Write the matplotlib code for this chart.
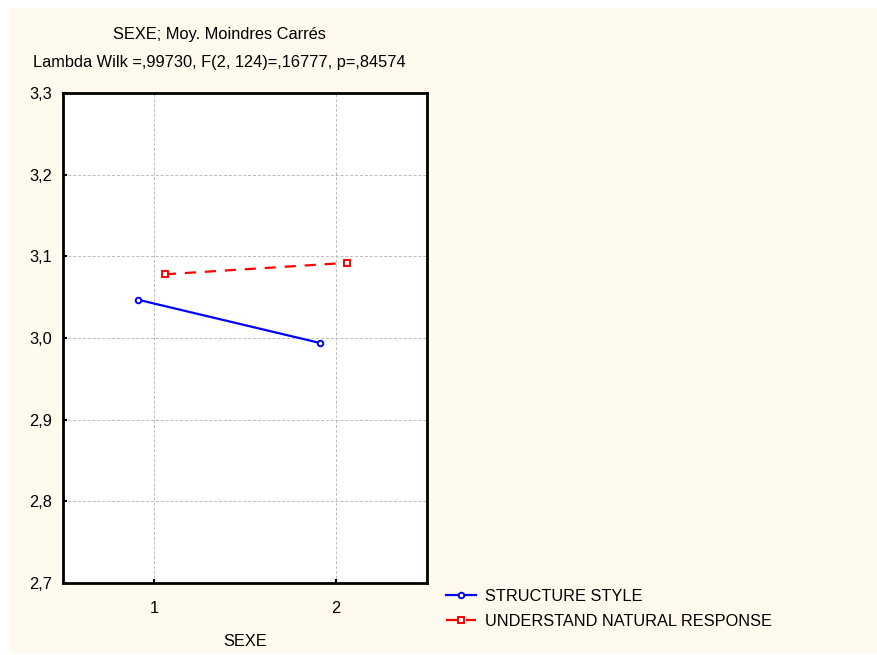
import matplotlib
matplotlib.use('Agg')
import matplotlib.pyplot as plt
from matplotlib.patches import Rectangle

plt.rcParams['font.family'] = ['Liberation Sans', 'DejaVu Sans']

# Data
sexe = [1, 2]
structureStyle = [3.047, 2.994]
understandNatural = [3.078, 3.092]
seriesNames = ['STRUCTURE STYLE', 'UNDERSTAND NATURAL RESPONSE']
yTicks = [2.7, 2.8, 2.9, 3.0, 3.1, 3.2, 3.3]
yTickLabels = ['2,7', '2,8', '2,9', '3,0', '3,1', '3,2', '3,3']
title1 = 'SEXE; Moy. Moindres Carrés'
title2 = 'Lambda Wilk =,99730, F(2, 124)=,16777, p=,84574'

W, H = 877, 655
fs = 11.8
fig = plt.figure(figsize=(W / 100, H / 100), dpi=100, facecolor='white')
cream = '#FFF9EE'
fig.patches.append(Rectangle((10 / W, 2 / H), 867 / W, 645 / H,
                             transform=fig.transFigure, facecolor=cream,
                             edgecolor='none', zorder=-10))

ax = fig.add_axes([63 / W, 1 - 583 / H, 364 / W, 490 / H])
ax.set_facecolor('white')

# small horizontal offsets so the two series don't overlap
blueX = [x - 0.09 for x in sexe]
redX = [x + 0.06 for x in sexe]
ax.plot(blueX, structureStyle, color='#0000FF', lw=1.6, marker='o', ms=4,
        mfc='white', mew=1.4, label=seriesNames[0])
ax.plot(redX, understandNatural, color='#FF0000', lw=1.6, ls=(0, (5, 4)),
        marker='s', ms=4, mfc='white', mew=1.4, label=seriesNames[1])

ax.set_xlim(0.5, 2.5)
ax.set_ylim(2.7, 3.3)
ax.set_xticks(sexe)
ax.set_xticklabels([str(s) for s in sexe])
ax.set_yticks(yTicks)
ax.set_yticklabels(yTickLabels)
ax.grid(True, color='#BBBBBB', ls=(0, (3, 2)), lw=0.7)
ax.tick_params(direction='in', length=3, width=1.5, labelsize=fs, pad=8)
ax.tick_params(axis='x', pad=13)
for s in ax.spines.values():
    s.set_linewidth(2)
ax.set_xlabel('SEXE', fontsize=fs, labelpad=13)

fig.text(219 / W, 1 - 34 / H, title1, ha='center', va='center', fontsize=fs)
fig.text(219 / W, 1 - 62 / H, title2, ha='center', va='center', fontsize=fs)

fig.legend(loc='upper left', bbox_to_anchor=(446 / W, 1 - 589 / H),
           frameon=False, fontsize=fs, handlelength=1.8, handletextpad=0.55,
           labelspacing=0.6, borderaxespad=0, borderpad=0)

fig.savefig('out.png', dpi=100, facecolor=fig.get_facecolor())
